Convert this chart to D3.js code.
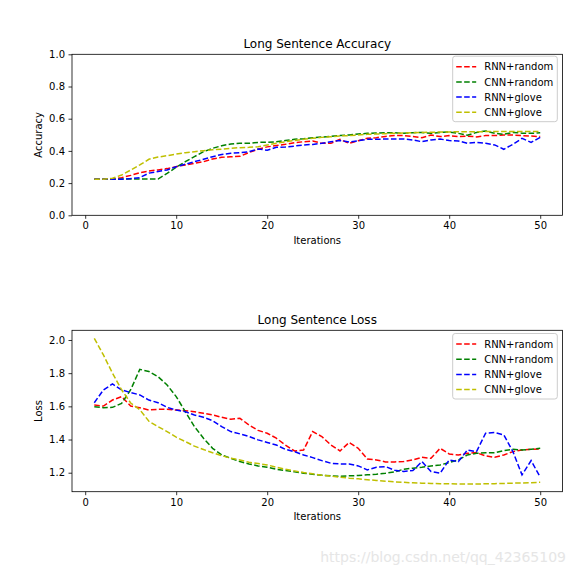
<!DOCTYPE html>
<html><head><meta charset="utf-8">
<script src="https://cdn.jsdelivr.net/npm/d3@7"></script>
<style>body{margin:0;background:#fff}svg{display:block}text{font-family:"DejaVu Sans",sans-serif;fill:#000}</style>
</head><body>
<script>
const iterations = d3.range(1, 51);
const seriesNames = ["RNN+random", "CNN+random", "RNN+glove", "CNN+glove"];
const seriesColors = ["#ff0000", "#008000", "#0000ff", "#bfbf00"];

const accRnnRandom = [0.224,0.224,0.224,0.234,0.248,0.265,0.275,0.282,0.29,0.302,0.313,0.323,0.333,0.35,0.36,0.364,0.366,0.39,0.41,0.425,0.433,0.441,0.451,0.457,0.462,0.447,0.447,0.472,0.447,0.463,0.478,0.482,0.49,0.495,0.495,0.489,0.482,0.499,0.489,0.495,0.489,0.492,0.487,0.495,0.495,0.499,0.499,0.495,0.492,0.489];
const accCnnRandom = [0.224,0.224,0.224,0.225,0.225,0.225,0.225,0.225,0.26,0.298,0.333,0.364,0.395,0.416,0.432,0.443,0.447,0.447,0.453,0.453,0.457,0.464,0.472,0.476,0.482,0.486,0.49,0.495,0.499,0.505,0.509,0.511,0.513,0.513,0.509,0.513,0.515,0.509,0.515,0.517,0.509,0.497,0.515,0.524,0.509,0.503,0.515,0.51,0.509,0.513];
const accRnnGlove = [0.224,0.224,0.224,0.224,0.228,0.234,0.262,0.272,0.282,0.302,0.317,0.333,0.348,0.364,0.378,0.385,0.389,0.395,0.412,0.404,0.422,0.424,0.43,0.437,0.44,0.447,0.457,0.465,0.455,0.463,0.472,0.472,0.474,0.474,0.474,0.468,0.457,0.468,0.474,0.464,0.462,0.447,0.453,0.447,0.437,0.41,0.441,0.478,0.453,0.484];
const accCnnGlove = [0.224,0.224,0.23,0.25,0.281,0.313,0.348,0.362,0.37,0.38,0.389,0.395,0.401,0.407,0.41,0.416,0.42,0.422,0.426,0.437,0.447,0.457,0.465,0.472,0.478,0.484,0.488,0.493,0.495,0.499,0.503,0.505,0.507,0.509,0.511,0.513,0.515,0.516,0.517,0.518,0.519,0.519,0.519,0.52,0.52,0.52,0.52,0.52,0.52,0.52];

const lossRnnRandom = [1.608,1.602,1.638,1.659,1.602,1.592,1.578,1.582,1.582,1.578,1.574,1.568,1.558,1.548,1.534,1.522,1.528,1.488,1.455,1.438,1.408,1.367,1.331,1.337,1.448,1.418,1.367,1.331,1.382,1.347,1.283,1.277,1.265,1.265,1.267,1.277,1.293,1.287,1.347,1.313,1.307,1.317,1.321,1.301,1.293,1.307,1.327,1.337,1.341,1.343];
const lossCnnRandom = [1.598,1.592,1.594,1.618,1.70,1.823,1.81,1.779,1.729,1.659,1.568,1.478,1.408,1.347,1.307,1.287,1.267,1.253,1.241,1.233,1.221,1.213,1.205,1.197,1.191,1.185,1.181,1.179,1.181,1.183,1.187,1.191,1.197,1.205,1.221,1.227,1.233,1.241,1.247,1.261,1.277,1.307,1.317,1.321,1.321,1.333,1.341,1.337,1.341,1.347];
const lossRnnGlove = [1.622,1.699,1.735,1.699,1.683,1.669,1.638,1.622,1.594,1.578,1.568,1.548,1.534,1.514,1.478,1.448,1.434,1.418,1.398,1.382,1.367,1.341,1.327,1.307,1.291,1.273,1.257,1.253,1.253,1.241,1.217,1.233,1.237,1.215,1.207,1.213,1.267,1.207,1.197,1.277,1.267,1.337,1.327,1.438,1.442,1.428,1.327,1.187,1.273,1.173];
const lossCnnGlove = [2.01,1.91,1.80,1.70,1.62,1.58,1.51,1.478,1.448,1.414,1.388,1.36,1.34,1.32,1.303,1.287,1.277,1.263,1.255,1.247,1.233,1.221,1.211,1.201,1.193,1.185,1.179,1.173,1.167,1.163,1.158,1.153,1.149,1.145,1.142,1.139,1.137,1.135,1.134,1.133,1.132,1.132,1.132,1.133,1.134,1.135,1.137,1.138,1.14,1.142];

const xTicks = [0, 10, 20, 30, 40, 50];
const accTicks = [0.0, 0.2, 0.4, 0.6, 0.8, 1.0];
const lossTicks = [1.2, 1.4, 1.6, 1.8, 2.0];

const svg = d3.select("body").append("svg").attr("width", 576).attr("height", 576);

function panel(cfg) {
  const g = svg.append("g");
  const x = d3.scaleLinear().domain([-1.45, 52.45]).range([cfg.left, cfg.right]);
  const y = d3.scaleLinear().domain(cfg.ydomain).range([cfg.bottom, cfg.top]);

  const xa = g.append("g").attr("transform", `translate(0,${cfg.bottom})`)
    .call(d3.axisBottom(x).tickValues(xTicks).tickFormat(d3.format("d")).tickSize(3.5).tickPadding(3.5));
  const ya = g.append("g").attr("transform", `translate(${cfg.left},0)`)
    .call(d3.axisLeft(y).tickValues(cfg.yticks).tickFormat(d3.format(".1f")).tickSize(3.5).tickPadding(3.5));
  [xa, ya].forEach(a => {
    a.select(".domain").remove();
    a.selectAll("line").attr("stroke", "#000").attr("stroke-width", 0.8);
    a.selectAll("text").attr("font-size", 10).attr("font-family", "DejaVu Sans").attr("fill", "#000");
  });

  const line = d3.line().x((d, i) => x(iterations[i])).y(d => y(d));
  cfg.series.forEach((s, k) => {
    g.append("path").datum(s).attr("d", line).attr("fill", "none")
      .attr("stroke", seriesColors[k]).attr("stroke-width", 1.5)
      .attr("stroke-dasharray", "5.55,2.4");
  });

  g.append("rect").attr("x", cfg.left).attr("y", cfg.top)
    .attr("width", cfg.right - cfg.left).attr("height", cfg.bottom - cfg.top)
    .attr("fill", "none").attr("stroke", "#000").attr("stroke-width", 0.8);

  g.append("text").attr("x", (cfg.left + cfg.right) / 2).attr("y", cfg.top - 6)
    .attr("text-anchor", "middle").attr("font-size", 12).text(cfg.title);
  g.append("text").attr("x", (cfg.left + cfg.right) / 2).attr("y", cfg.bottom + 28.5)
    .attr("text-anchor", "middle").attr("font-size", 10).text("Iterations");
  g.append("text").attr("transform", `translate(${cfg.ylabelX},${(cfg.top + cfg.bottom) / 2}) rotate(-90)`)
    .attr("text-anchor", "middle").attr("font-size", 10).text(cfg.ylabel);

  // legend
  const lx = 452.7, lw = 104.6, ly = cfg.legendTop, lh = 65.5;
  g.append("rect").attr("x", lx).attr("y", ly).attr("width", lw).attr("height", lh)
    .attr("rx", 2.5).attr("fill", "#fff").attr("fill-opacity", 0.8)
    .attr("stroke", "#cccccc").attr("stroke-width", 1);
  seriesNames.forEach((n, k) => {
    const yy = ly + 10.5 + k * 15.2;
    g.append("line").attr("x1", lx + 3.5).attr("x2", lx + 23.5).attr("y1", yy).attr("y2", yy)
      .attr("stroke", seriesColors[k]).attr("stroke-width", 1.5).attr("stroke-dasharray", "5.55,2.4");
    g.append("text").attr("x", lx + 31.5).attr("y", yy + 3.6).attr("font-size", 10).text(n);
  });
}

panel({left: 72, right: 562.5, top: 54.3, bottom: 215.3, ydomain: [0, 1], yticks: accTicks,
  title: "Long Sentence Accuracy", ylabel: "Accuracy", ylabelX: 42, legendTop: 56.2,
  series: [accRnnRandom, accCnnRandom, accRnnGlove, accCnnGlove]});
panel({left: 72, right: 562.5, top: 330.3, bottom: 491.7, ydomain: [1.0855, 2.0584], yticks: lossTicks,
  title: "Long Sentence Loss", ylabel: "Loss", ylabelX: 42, legendTop: 333.5,
  series: [lossRnnRandom, lossCnnRandom, lossRnnGlove, lossCnnGlove]});

svg.append("text").attr("x", 566).attr("y", 562).attr("text-anchor", "end")
  .attr("font-family", "Liberation Sans, Arial, sans-serif").attr("font-size", 14)
  .style("fill", "#e6e6e6").text("https://blog.csdn.net/qq_42365109");
</script>
</body></html>
